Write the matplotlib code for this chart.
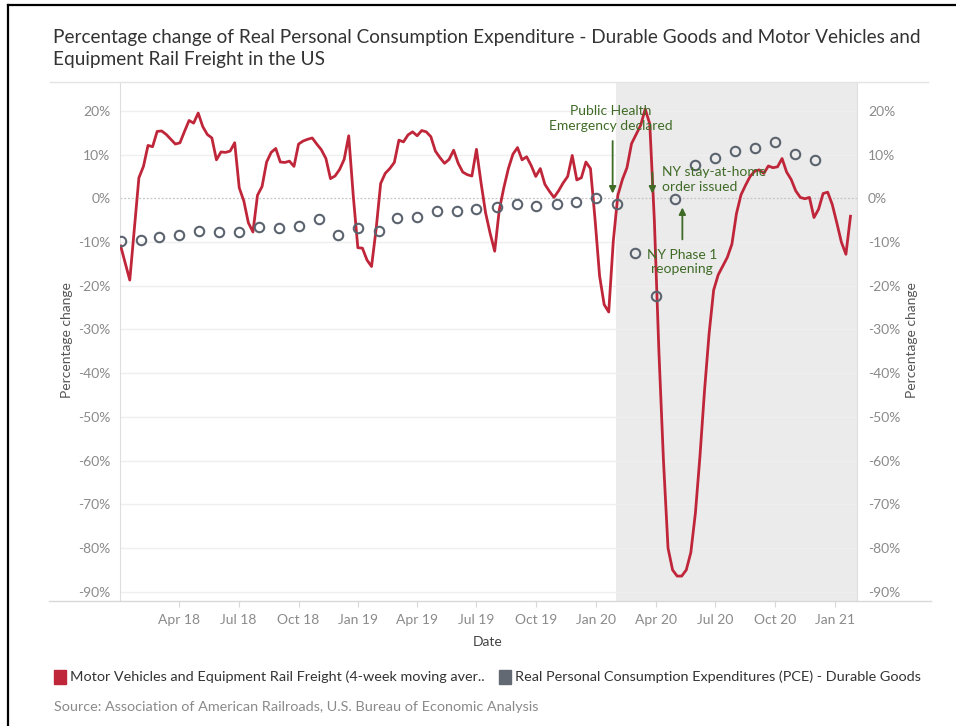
import numpy as np
import pandas as pd
import matplotlib
matplotlib.use('Agg')
import matplotlib.pyplot as plt
from matplotlib.patches import Rectangle
from matplotlib.lines import Line2D

fs = 10
plt.style.use('default')
plt.rcParams['font.family'] = ['Lato', 'DejaVu Sans']
plt.rcParams['font.size'] = fs

# ---- data ----
# weekly 4-week moving average, motor vehicles & equipment rail freight (% change)
freight_start = '2018-01-01'
freight_vals = [
    -10.9, -14.8, -18.7, -7.0, 4.7, 7.3, 12.1, 11.8, 15.3, 15.4,
    14.6, 13.5, 12.4, 12.7, 15.3, 17.8, 17.2, 19.5, 16.4, 14.6,
    13.8, 8.8, 10.6, 10.5, 10.8, 12.7, 2.4, -0.6, -5.6, -7.7,
    0.7, 2.7, 8.3, 10.5, 11.4, 8.3, 8.2, 8.5, 7.3, 12.4,
    13.1, 13.5, 13.8, 12.4, 11.1, 9.1, 4.5, 5.1, 6.6, 8.9,
    14.3, 0.5, -11.3, -11.4, -14.1, -15.6, -7.1, 3.4, 5.7, 6.8,
    8.2, 13.3, 12.9, 14.5, 15.2, 14.3, 15.5, 15.2, 14.1, 10.8,
    9.3, 8.0, 8.9, 11.0, 8.0, 6.0, 5.4, 5.1, 11.2, 3.6,
    -3.3, -8.0, -12.1, -2.7, 2.4, 6.8, 10.1, 11.6, 8.8, 9.5,
    7.5, 5.0, 6.8, 3.2, 1.6, 0.2, 1.7, 3.5, 5.0, 9.8,
    4.2, 4.7, 8.3, 6.8, -4.8, -17.8, -24.3, -26.0, -9.8, 0.7,
    4.3, 7.0, 12.5, 14.6, 16.7, 20.4, 17.0, -5.0, -35.0, -60.0,
    -80.0, -85.0, -86.4, -86.4, -85.0, -81.0, -72.0, -59.0, -44.0, -31.0,
    -21.0, -17.5, -15.5, -13.5, -10.5, -3.5, 0.8, 3.0, 5.0, 6.2,
    6.5, 5.7, 7.4, 7.0, 7.2, 9.1, 6.0, 4.3, 1.7, 0.2,
    -0.1, 0.2, -4.4, -2.5, 1.1, 1.4, -1.4, -5.6, -10.0, -12.8,
    -4.1,
]

# monthly real PCE durable goods (% change)
pce_start = '2018-01-01'
pce_vals = [
    -9.8, -9.5, -8.8, -8.4, -7.4, -7.8, -7.6, -6.6, -6.9, -6.3, -4.8, -8.3,
    -6.9, -7.4, -4.6, -4.3, -3.0, -3.0, -2.4, -2.0, -1.4, -1.8, -1.2, -0.8,
    0.0, -1.2, -12.4, -22.3, -0.2, 7.7, 9.2, 10.8, 11.6, 12.8, 10.1, 8.7,
]

tick_dates = ['2018-04-01', '2018-07-01', '2018-10-01', '2019-01-01', '2019-04-01',
              '2019-07-01', '2019-10-01', '2020-01-01', '2020-04-01', '2020-07-01',
              '2020-10-01', '2021-01-01']
tick_labels = ['Apr 18', 'Jul 18', 'Oct 18', 'Jan 19', 'Apr 19', 'Jul 19',
               'Oct 19', 'Jan 20', 'Apr 20', 'Jul 20', 'Oct 20', 'Jan 21']
yticks = np.arange(-90, 21, 10)

shade_start = '2020-01-31'
events = ['Public Health\nEmergency declared', 'NY stay-at-home\norder issued', 'NY Phase 1\nreopening']

freight_dates = pd.date_range(freight_start, periods=len(freight_vals), freq='7D')
pce_dates = pd.date_range(pce_start, periods=len(pce_vals), freq='MS')

red = '#c0263a'
gray = '#5b636e'
green = '#3f6b26'
lab_c = '#8a8a8a'

W, H = 956, 726
fig = plt.figure(figsize=(W / 100, H / 100), dpi=100)
fig.patch.set_facecolor('white')

def fx(px):
    return px / W

def fy(py):
    return 1 - py / H

ax = fig.add_axes([fx(120), fy(601), fx(857) - fx(120), fy(82) - fy(601)])

x0 = pd.Timestamp('2017-12-31')
x1 = pd.Timestamp('2021-02-04')
ax.set_xlim(x0, x1)
ax.set_ylim(-92.1, 26.6)

ax.axvspan(pd.Timestamp(shade_start), x1, color='#ebebeb', zorder=0, lw=0)

for v in yticks:
    if v == 0:
        ax.axhline(0, color='#c4c4c4', lw=0.9, ls=(0, (1.5, 1.5)), zorder=1)
    else:
        ax.axhline(v, color='#efefef', lw=1, zorder=1)

ax.plot(freight_dates, freight_vals, '-', c=red, lw=2.0, zorder=3, solid_joinstyle='round')
ax.plot(pce_dates, pce_vals, 'o', ms=6.8, mfc='none', mec=gray, mew=1.5, zorder=4)

ax.set_yticks(yticks)
ax.set_yticklabels(['%d%%' % v for v in yticks], color=lab_c, fontsize=fs)
ax.set_xticks(pd.to_datetime(tick_dates))
ax.set_xticklabels(tick_labels, color=lab_c, fontsize=fs)
ax.tick_params(axis='y', length=0, pad=7)
ax.tick_params(axis='x', length=4, color='#d8d8d8', pad=5)

ax2 = ax.twinx()
ax2.set_ylim(ax.get_ylim())
ax2.set_yticks(yticks)
ax2.set_yticklabels(['%d%%' % v for v in yticks], color=lab_c, fontsize=fs)
ax2.tick_params(axis='y', length=0, pad=8)

for a in (ax, ax2):
    for s in a.spines.values():
        s.set_visible(False)
ax.spines['left'].set_visible(True)
ax.spines['left'].set_color('#dedede')
ax2.spines['right'].set_visible(True)
ax2.spines['right'].set_color('#dedede')

# event annotations
arrow = dict(arrowstyle='-|>', color=green, lw=1.3, mutation_scale=10, shrinkA=0, shrinkB=0)
ax.text(pd.Timestamp('2020-01-23'), 18.3, events[0], color=green, fontsize=fs,
        ha='center', va='center', linespacing=1.25, zorder=5)
ax.annotate('', xy=(pd.Timestamp('2020-01-26'), 1.1), xytext=(pd.Timestamp('2020-01-26'), 13.1),
            arrowprops=arrow, zorder=5)
ax.text(pd.Timestamp('2020-04-10'), 4.3, events[1], color=green, fontsize=fs,
        ha='left', va='center', linespacing=1.25, zorder=5)
ax.annotate('', xy=(pd.Timestamp('2020-03-27'), 1.1), xytext=(pd.Timestamp('2020-03-27'), 5.9),
            arrowprops=arrow, zorder=5)
ax.text(pd.Timestamp('2020-05-12'), -14.6, events[2], color=green, fontsize=fs,
        ha='center', va='center', linespacing=1.25, zorder=5)
ax.annotate('', xy=(pd.Timestamp('2020-05-12'), -2.1), xytext=(pd.Timestamp('2020-05-12'), -9.4),
            arrowprops=arrow, zorder=5)

# frame lines, titles, labels
fig.add_artist(Line2D([fx(50), fx(928)], [fy(82), fy(82)], color='#e4e4e4', lw=1))
fig.add_artist(Line2D([fx(49), fx(931)], [fy(601), fy(601)], color='#d8d8d8', lw=1))
fig.add_artist(Line2D([fx(8), 1], [fy(5), fy(5)], color='black', lw=1.6))
fig.add_artist(Line2D([fx(8), fx(8)], [fy(5), 0], color='black', lw=1.6))

fig.text(fx(53), fy(37), 'Percentage change of Real Personal Consumption Expenditure - Durable Goods and Motor Vehicles and',
         fontsize=13.7, color='#333333', ha='left', va='center')
fig.text(fx(53), fy(60), 'Equipment Rail Freight in the US',
         fontsize=13.7, color='#333333', ha='left', va='center')

fig.text(fx(67), fy(340), 'Percentage change', rotation=90, fontsize=fs, color='#555555', ha='center', va='center')
fig.text(fx(912), fy(340), 'Percentage change', rotation=90, fontsize=fs, color='#555555', ha='center', va='center')
fig.text(fx(488), fy(642), 'Date', fontsize=fs, color='#444444', ha='center', va='center')

fig.add_artist(Rectangle((fx(54), fy(684)), fx(12), fy(670) - fy(684), color=red, transform=fig.transFigure))
fig.text(fx(70), fy(677), 'Motor Vehicles and Equipment Rail Freight (4-week moving aver..',
         fontsize=10.4, color='#333333', ha='left', va='center')
fig.add_artist(Rectangle((fx(499), fy(684)), fx(12), fy(670) - fy(684), color='#636973', transform=fig.transFigure))
fig.text(fx(515), fy(677), 'Real Personal Consumption Expenditures (PCE) - Durable Goods',
         fontsize=10.4, color='#333333', ha='left', va='center')

fig.text(fx(54), fy(707), 'Source: Association of American Railroads, U.S. Bureau of Economic Analysis',
         fontsize=10.4, color=lab_c, ha='left', va='center')

plt.savefig('out.png', dpi=100)
